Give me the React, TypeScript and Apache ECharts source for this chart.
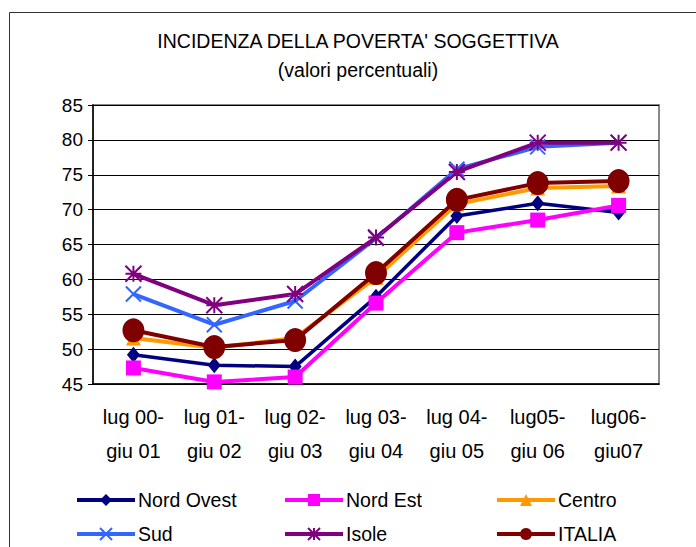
import React, { useEffect, useRef } from "react";
import * as echarts from "echarts";

const categories = [
  "lug 00-\ngiu 01",
  "lug 01-\ngiu 02",
  "lug 02-\ngiu 03",
  "lug 03-\ngiu 04",
  "lug 04-\ngiu 05",
  "lug05-\ngiu 06",
  "lug06-\ngiu07",
];

const seriesNames = ["Nord Ovest", "Nord Est", "Centro", "Sud", "Isole", "ITALIA"];

const nordOvest = [49.2, 47.7, 47.5, 57.5, 69.1, 70.9, 69.6];
const nordEst = [47.3, 45.3, 46.0, 56.6, 66.7, 68.5, 70.6];
const centro = [51.6, 50.2, 51.6, 60.3, 70.8, 73.1, 73.4];
const sud = [57.9, 53.5, 56.9, 65.9, 75.8, 79.0, 79.6];
const isole = [60.8, 56.3, 57.9, 66.0, 75.4, 79.6, 79.6];
const italia = [52.7, 50.3, 51.3, 60.9, 71.4, 73.8, 74.1];

const yTicks = { min: 45, max: 85, interval: 5 };

const FONT = "Liberation Sans, Arial, sans-serif";

export default function App() {
  const ref = useRef<HTMLDivElement>(null);
  useEffect(() => {
    document.body.style.margin = "0";
    if (!ref.current) return;
    const chart = echarts.init(ref.current, undefined, { renderer: "svg" });
    const mk = (
      name: string,
      data: number[],
      color: string,
      symbol: string,
      size: number | number[],
      width: number,
      stroke?: boolean
    ) => ({
      name,
      type: "line",
      data,
      symbol,
      symbolSize: size,
      lineStyle: { color, width },
      itemStyle: stroke
        ? { color, borderColor: color, borderWidth: 2 }
        : { color, borderWidth: 0 },
      emphasis: { disabled: true },
    });
    const legendPos = [
      [75, 490],
      [283, 490],
      [495, 490],
      [75, 524],
      [283, 524],
      [495, 524],
    ];
    const legends = seriesNames.map((n, i) => ({
      left: legendPos[i][0],
      top: legendPos[i][1],
      padding: 0,
      itemWidth: 58,
      itemHeight: 15,
      itemGap: 0,
      selectedMode: false,
      lineStyle: { width: 4 },
      textStyle: { fontFamily: FONT, fontSize: 19.5, color: "#000", padding: [0, 0, 0, -2] },
      data: [n],
    }));
    chart.setOption({
      animation: false,
      backgroundColor: "#fff",
      textStyle: { fontFamily: FONT },
      graphic: [
        {
          type: "rect",
          shape: { x: 9.5, y: 12.5, width: 700, height: 545 },
          style: { fill: "none", stroke: "#333", lineWidth: 1 },
          silent: true,
        },
      ],
      title: {
        text: "INCIDENZA DELLA POVERTA' SOGGETTIVA",
        subtext: "(valori percentuali)",
        left: 358,
        textAlign: "center",
        top: 31,
        itemGap: 9,
        padding: 0,
        textStyle: { fontFamily: FONT, fontSize: 19.5, fontWeight: "normal", color: "#000" },
        subtextStyle: { fontFamily: FONT, fontSize: 19.5, color: "#000" },
      },
      legend: legends,
      grid: {
        left: 93,
        top: 105,
        right: 37,
        bottom: 163,
        show: true,
        borderColor: "#888",
        borderWidth: 2,
        backgroundColor: "#fff",
      },
      xAxis: {
        type: "category",
        data: categories,
        boundaryGap: true,
        axisLine: { lineStyle: { color: "#000", width: 1.5 } },
        axisTick: { show: false },
        axisLabel: { fontFamily: FONT, fontSize: 20, color: "#000", lineHeight: 34, margin: 16 },
      },
      yAxis: {
        type: "value",
        min: yTicks.min,
        max: yTicks.max,
        interval: yTicks.interval,
        axisLine: { show: true, lineStyle: { color: "#000", width: 1.5 } },
        axisTick: { show: true, length: 5, lineStyle: { color: "#000" } },
        splitLine: { lineStyle: { color: "#000", width: 1 } },
        axisLabel: { fontFamily: FONT, fontSize: 19, color: "#000", margin: 10 },
      },
      series: [
        mk(seriesNames[0], nordOvest, "#000080", "diamond", [13, 16], 3.5),
        mk(seriesNames[1], nordEst, "#ff00ff", "rect", 15, 4),
        mk(seriesNames[2], centro, "#ff9900", "triangle", 15, 4),
        mk(seriesNames[3], sud, "#3366ff", "path://M0,0L10,10M10,0L0,10", 15, 4, true),
        mk(seriesNames[4], isole, "#800080", "path://M5,0L5,10M0,0L10,10M10,0L0,10M0,5L10,5", 16, 4, true),
        mk(seriesNames[5], italia, "#800000", "circle", [22, 24], 4),
      ],
    });
    return () => chart.dispose();
  }, []);
  return <div ref={ref} style={{ width: 696, height: 547 }} />;
}
